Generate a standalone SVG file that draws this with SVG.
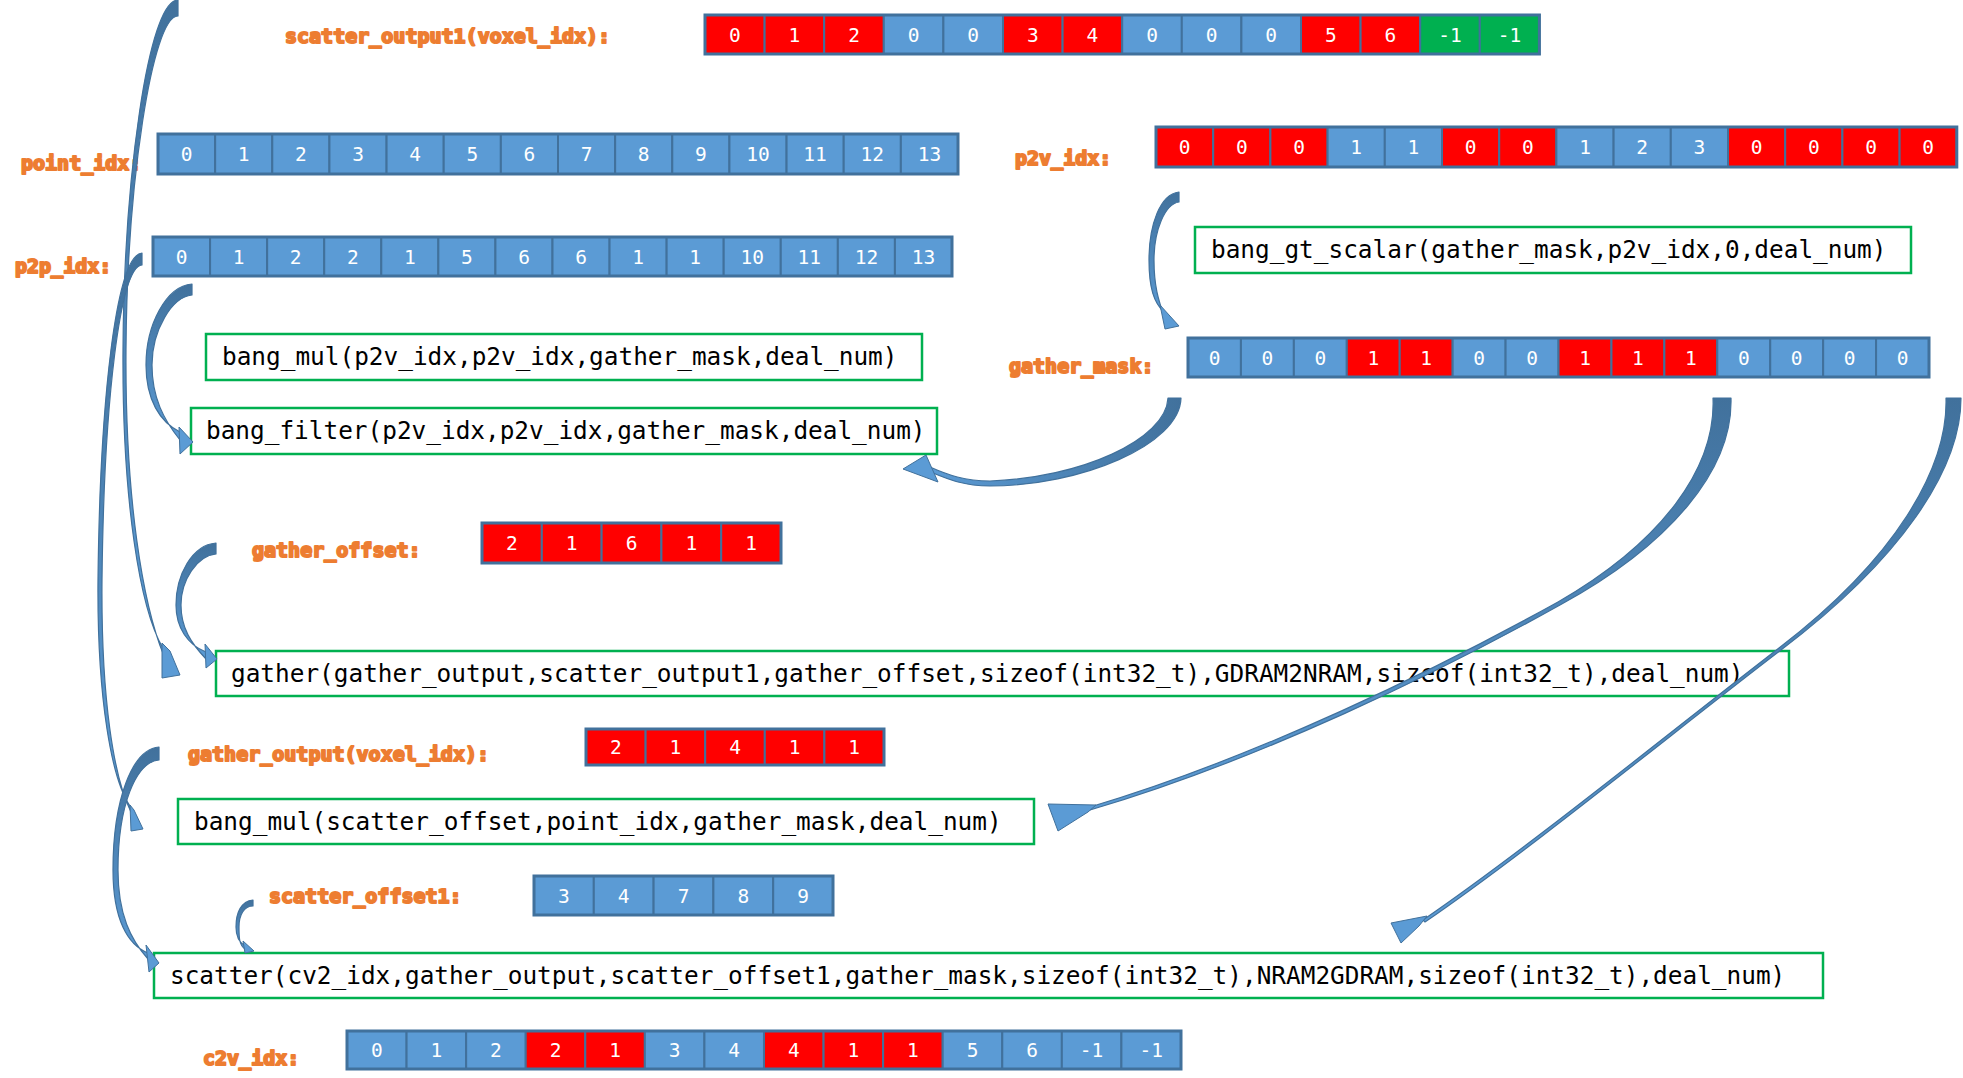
<svg xmlns="http://www.w3.org/2000/svg" width="1963" height="1078" viewBox="0 0 1963 1078">
<style>
.cb{fill:#5B9BD5;stroke:#41719C;stroke-width:2}
.cr{fill:#FF0000;stroke:#41719C;stroke-width:2}
.cg{fill:#00B050;stroke:#41719C;stroke-width:2}
.frame{fill:none;stroke:#41719C;stroke-width:3}
.num{font-family:"DejaVu Sans Mono",monospace;font-size:19.5px;fill:#fff;text-anchor:middle}
.lbl{font-family:"DejaVu Sans Mono",monospace;font-size:20px;font-weight:bold;fill:#ED7D31;stroke:#ED7D31;stroke-width:2;stroke-linejoin:round}
.box{fill:#fff;stroke:#00B050;stroke-width:2.5}
.code{font-family:"DejaVu Sans Mono",monospace;font-size:24.4px;fill:#000}
.arr{stroke:#41719C;stroke-width:1.2;stroke-linejoin:round}
.head{fill:#5B9BD5;stroke:#41719C;stroke-width:1;stroke-linejoin:round}
</style>
<defs>
<linearGradient id="gDown" x1="0" y1="0" x2="0" y2="1"><stop offset="0" stop-color="#41719C"/><stop offset="1" stop-color="#5B9BD5"/></linearGradient>
<linearGradient id="gLeft" x1="1" y1="0" x2="0" y2="0"><stop offset="0" stop-color="#41719C"/><stop offset="1" stop-color="#5B9BD5"/></linearGradient>
</defs>
<rect width="1963" height="1078" fill="#fff"/>

<g id="scatter_output1">
<text class="lbl" x="285" y="43">scatter_output1(voxel_idx):</text>
<rect class="cr" x="705" y="15" width="59.6" height="39"/><rect class="cr" x="764.6" y="15" width="59.6" height="39"/><rect class="cr" x="824.2" y="15" width="59.6" height="39"/><rect class="cb" x="883.8" y="15" width="59.6" height="39"/><rect class="cb" x="943.4" y="15" width="59.6" height="39"/><rect class="cr" x="1003" y="15" width="59.6" height="39"/><rect class="cr" x="1062.6" y="15" width="59.6" height="39"/><rect class="cb" x="1122.2" y="15" width="59.6" height="39"/><rect class="cb" x="1181.8" y="15" width="59.6" height="39"/><rect class="cb" x="1241.4" y="15" width="59.6" height="39"/><rect class="cr" x="1301" y="15" width="59.6" height="39"/><rect class="cr" x="1360.6" y="15" width="59.6" height="39"/><rect class="cg" x="1420.2" y="15" width="59.6" height="39"/><rect class="cg" x="1479.8" y="15" width="59.6" height="39"/>
<rect class="frame" x="705" y="15" width="834.4" height="39"/>
<text class="num" x="734.8" y="41.5">0</text><text class="num" x="794.4" y="41.5">1</text><text class="num" x="854" y="41.5">2</text><text class="num" x="913.6" y="41.5">0</text><text class="num" x="973.2" y="41.5">0</text><text class="num" x="1032.8" y="41.5">3</text><text class="num" x="1092.4" y="41.5">4</text><text class="num" x="1152" y="41.5">0</text><text class="num" x="1211.6" y="41.5">0</text><text class="num" x="1271.2" y="41.5">0</text><text class="num" x="1330.8" y="41.5">5</text><text class="num" x="1390.4" y="41.5">6</text><text class="num" x="1450" y="41.5">-1</text><text class="num" x="1509.6" y="41.5">-1</text>
</g>

<g id="point_idx">
<text class="lbl" x="21" y="170">point_idx:</text>
<rect class="cb" x="158" y="134" width="57.14" height="40"/><rect class="cb" x="215.14" y="134" width="57.14" height="40"/><rect class="cb" x="272.29" y="134" width="57.14" height="40"/><rect class="cb" x="329.43" y="134" width="57.14" height="40"/><rect class="cb" x="386.57" y="134" width="57.14" height="40"/><rect class="cb" x="443.71" y="134" width="57.14" height="40"/><rect class="cb" x="500.86" y="134" width="57.14" height="40"/><rect class="cb" x="558" y="134" width="57.14" height="40"/><rect class="cb" x="615.14" y="134" width="57.14" height="40"/><rect class="cb" x="672.29" y="134" width="57.14" height="40"/><rect class="cb" x="729.43" y="134" width="57.14" height="40"/><rect class="cb" x="786.57" y="134" width="57.14" height="40"/><rect class="cb" x="843.71" y="134" width="57.14" height="40"/><rect class="cb" x="900.86" y="134" width="57.14" height="40"/>
<rect class="frame" x="158" y="134" width="800" height="40"/>
<text class="num" x="186.6" y="161">0</text><text class="num" x="243.7" y="161">1</text><text class="num" x="300.9" y="161">2</text><text class="num" x="358" y="161">3</text><text class="num" x="415.1" y="161">4</text><text class="num" x="472.3" y="161">5</text><text class="num" x="529.4" y="161">6</text><text class="num" x="586.6" y="161">7</text><text class="num" x="643.7" y="161">8</text><text class="num" x="700.9" y="161">9</text><text class="num" x="758" y="161">10</text><text class="num" x="815.1" y="161">11</text><text class="num" x="872.3" y="161">12</text><text class="num" x="929.4" y="161">13</text>
</g>

<g id="p2p_idx">
<text class="lbl" x="15" y="273">p2p_idx:</text>
<rect class="cb" x="153" y="237" width="57.07" height="39"/><rect class="cb" x="210.07" y="237" width="57.07" height="39"/><rect class="cb" x="267.14" y="237" width="57.07" height="39"/><rect class="cb" x="324.21" y="237" width="57.07" height="39"/><rect class="cb" x="381.28" y="237" width="57.07" height="39"/><rect class="cb" x="438.35" y="237" width="57.07" height="39"/><rect class="cb" x="495.42" y="237" width="57.07" height="39"/><rect class="cb" x="552.49" y="237" width="57.07" height="39"/><rect class="cb" x="609.56" y="237" width="57.07" height="39"/><rect class="cb" x="666.63" y="237" width="57.07" height="39"/><rect class="cb" x="723.7" y="237" width="57.07" height="39"/><rect class="cb" x="780.77" y="237" width="57.07" height="39"/><rect class="cb" x="837.84" y="237" width="57.07" height="39"/><rect class="cb" x="894.91" y="237" width="57.07" height="39"/>
<rect class="frame" x="153" y="237" width="799" height="39"/>
<text class="num" x="181.5" y="263.5">0</text><text class="num" x="238.6" y="263.5">1</text><text class="num" x="295.7" y="263.5">2</text><text class="num" x="352.8" y="263.5">2</text><text class="num" x="409.8" y="263.5">1</text><text class="num" x="466.9" y="263.5">5</text><text class="num" x="524" y="263.5">6</text><text class="num" x="581" y="263.5">6</text><text class="num" x="638.1" y="263.5">1</text><text class="num" x="695.2" y="263.5">1</text><text class="num" x="752.2" y="263.5">10</text><text class="num" x="809.3" y="263.5">11</text><text class="num" x="866.4" y="263.5">12</text><text class="num" x="923.5" y="263.5">13</text>
</g>

<g id="p2v_idx">
<text class="lbl" x="1015" y="165">p2v_idx:</text>
<rect class="cr" x="1156" y="127" width="57.2" height="40"/><rect class="cr" x="1213.2" y="127" width="57.2" height="40"/><rect class="cr" x="1270.4" y="127" width="57.2" height="40"/><rect class="cb" x="1327.6" y="127" width="57.2" height="40"/><rect class="cb" x="1384.8" y="127" width="57.2" height="40"/><rect class="cr" x="1442" y="127" width="57.2" height="40"/><rect class="cr" x="1499.2" y="127" width="57.2" height="40"/><rect class="cb" x="1556.4" y="127" width="57.2" height="40"/><rect class="cb" x="1613.6" y="127" width="57.2" height="40"/><rect class="cb" x="1670.8" y="127" width="57.2" height="40"/><rect class="cr" x="1728" y="127" width="57.2" height="40"/><rect class="cr" x="1785.2" y="127" width="57.2" height="40"/><rect class="cr" x="1842.4" y="127" width="57.2" height="40"/><rect class="cr" x="1899.6" y="127" width="57.2" height="40"/>
<rect class="frame" x="1156" y="127" width="800.8" height="40"/>
<text class="num" x="1184.6" y="154">0</text><text class="num" x="1241.8" y="154">0</text><text class="num" x="1299" y="154">0</text><text class="num" x="1356.2" y="154">1</text><text class="num" x="1413.4" y="154">1</text><text class="num" x="1470.6" y="154">0</text><text class="num" x="1527.8" y="154">0</text><text class="num" x="1585" y="154">1</text><text class="num" x="1642.2" y="154">2</text><text class="num" x="1699.4" y="154">3</text><text class="num" x="1756.6" y="154">0</text><text class="num" x="1813.8" y="154">0</text><text class="num" x="1871" y="154">0</text><text class="num" x="1928.2" y="154">0</text>
</g>

<g id="bang_gt_scalar">
<rect class="box" x="1195" y="227" width="716" height="46"/>
<text class="code" x="1211" y="258">bang_gt_scalar(gather_mask,p2v_idx,0,deal_num)</text>
</g>

<g id="gather_mask">
<text class="lbl" x="1009" y="373">gather_mask:</text>
<rect class="cb" x="1188" y="338" width="52.93" height="39"/><rect class="cb" x="1240.93" y="338" width="52.93" height="39"/><rect class="cb" x="1293.86" y="338" width="52.93" height="39"/><rect class="cr" x="1346.79" y="338" width="52.93" height="39"/><rect class="cr" x="1399.72" y="338" width="52.93" height="39"/><rect class="cb" x="1452.65" y="338" width="52.93" height="39"/><rect class="cb" x="1505.58" y="338" width="52.93" height="39"/><rect class="cr" x="1558.51" y="338" width="52.93" height="39"/><rect class="cr" x="1611.44" y="338" width="52.93" height="39"/><rect class="cr" x="1664.37" y="338" width="52.93" height="39"/><rect class="cb" x="1717.3" y="338" width="52.93" height="39"/><rect class="cb" x="1770.23" y="338" width="52.93" height="39"/><rect class="cb" x="1823.16" y="338" width="52.93" height="39"/><rect class="cb" x="1876.09" y="338" width="52.93" height="39"/>
<rect class="frame" x="1188" y="338" width="741" height="39"/>
<text class="num" x="1214.5" y="364.5">0</text><text class="num" x="1267.4" y="364.5">0</text><text class="num" x="1320.3" y="364.5">0</text><text class="num" x="1373.3" y="364.5">1</text><text class="num" x="1426.2" y="364.5">1</text><text class="num" x="1479.1" y="364.5">0</text><text class="num" x="1532" y="364.5">0</text><text class="num" x="1585" y="364.5">1</text><text class="num" x="1637.9" y="364.5">1</text><text class="num" x="1690.8" y="364.5">1</text><text class="num" x="1743.8" y="364.5">0</text><text class="num" x="1796.7" y="364.5">0</text><text class="num" x="1849.6" y="364.5">0</text><text class="num" x="1902.6" y="364.5">0</text>
</g>

<g id="bang_mul_p2v">
<rect class="box" x="206" y="334" width="716" height="46"/>
<text class="code" x="222" y="365">bang_mul(p2v_idx,p2v_idx,gather_mask,deal_num)</text>
</g>

<g id="bang_filter">
<rect class="box" x="191" y="408" width="746" height="46"/>
<text class="code" x="206" y="439">bang_filter(p2v_idx,p2v_idx,gather_mask,deal_num)</text>
</g>

<g id="gather_offset">
<text class="lbl" x="252" y="557">gather_offset:</text>
<rect class="cr" x="482" y="523" width="59.8" height="40"/><rect class="cr" x="541.8" y="523" width="59.8" height="40"/><rect class="cr" x="601.6" y="523" width="59.8" height="40"/><rect class="cr" x="661.4" y="523" width="59.8" height="40"/><rect class="cr" x="721.2" y="523" width="59.8" height="40"/>
<rect class="frame" x="482" y="523" width="299" height="40"/>
<text class="num" x="511.9" y="550">2</text><text class="num" x="571.7" y="550">1</text><text class="num" x="631.5" y="550">6</text><text class="num" x="691.3" y="550">1</text><text class="num" x="751.1" y="550">1</text>
</g>

<g id="gather">
<rect class="box" x="216" y="651" width="1573" height="45"/>
<text class="code" x="231" y="682">gather(gather_output,scatter_output1,gather_offset,sizeof(int32_t),GDRAM2NRAM,sizeof(int32_t),deal_num)</text>
</g>

<g id="gather_output">
<text class="lbl" x="188" y="761">gather_output(voxel_idx):</text>
<rect class="cr" x="586" y="729" width="59.6" height="36"/><rect class="cr" x="645.6" y="729" width="59.6" height="36"/><rect class="cr" x="705.2" y="729" width="59.6" height="36"/><rect class="cr" x="764.8" y="729" width="59.6" height="36"/><rect class="cr" x="824.4" y="729" width="59.6" height="36"/>
<rect class="frame" x="586" y="729" width="298" height="36"/>
<text class="num" x="615.8" y="754">2</text><text class="num" x="675.4" y="754">1</text><text class="num" x="735" y="754">4</text><text class="num" x="794.6" y="754">1</text><text class="num" x="854.2" y="754">1</text>
</g>

<g id="bang_mul_scatter">
<rect class="box" x="178" y="799" width="856" height="45"/>
<text class="code" x="194" y="830">bang_mul(scatter_offset,point_idx,gather_mask,deal_num)</text>
</g>

<g id="scatter_offset1">
<text class="lbl" x="269" y="903">scatter_offset1:</text>
<rect class="cb" x="534" y="876" width="59.8" height="39"/><rect class="cb" x="593.8" y="876" width="59.8" height="39"/><rect class="cb" x="653.6" y="876" width="59.8" height="39"/><rect class="cb" x="713.4" y="876" width="59.8" height="39"/><rect class="cb" x="773.2" y="876" width="59.8" height="39"/>
<rect class="frame" x="534" y="876" width="299" height="39"/>
<text class="num" x="563.9" y="902.5">3</text><text class="num" x="623.7" y="902.5">4</text><text class="num" x="683.5" y="902.5">7</text><text class="num" x="743.3" y="902.5">8</text><text class="num" x="803.1" y="902.5">9</text>
</g>

<g id="scatter">
<rect class="box" x="154" y="953" width="1669" height="45"/>
<text class="code" x="170" y="984">scatter(cv2_idx,gather_output,scatter_offset1,gather_mask,sizeof(int32_t),NRAM2GDRAM,sizeof(int32_t),deal_num)</text>
</g>

<g id="c2v_idx">
<text class="lbl" x="203" y="1065">c2v_idx:</text>
<rect class="cb" x="347" y="1031" width="59.57" height="38"/><rect class="cb" x="406.57" y="1031" width="59.57" height="38"/><rect class="cb" x="466.14" y="1031" width="59.57" height="38"/><rect class="cr" x="525.71" y="1031" width="59.57" height="38"/><rect class="cr" x="585.28" y="1031" width="59.57" height="38"/><rect class="cb" x="644.85" y="1031" width="59.57" height="38"/><rect class="cb" x="704.42" y="1031" width="59.57" height="38"/><rect class="cr" x="763.99" y="1031" width="59.57" height="38"/><rect class="cr" x="823.56" y="1031" width="59.57" height="38"/><rect class="cr" x="883.13" y="1031" width="59.57" height="38"/><rect class="cb" x="942.7" y="1031" width="59.57" height="38"/><rect class="cb" x="1002.27" y="1031" width="59.57" height="38"/><rect class="cb" x="1061.84" y="1031" width="59.57" height="38"/><rect class="cb" x="1121.41" y="1031" width="59.57" height="38"/>
<rect class="frame" x="347" y="1031" width="834" height="38"/>
<text class="num" x="376.8" y="1057">0</text><text class="num" x="436.4" y="1057">1</text><text class="num" x="495.9" y="1057">2</text><text class="num" x="555.5" y="1057">2</text><text class="num" x="615.1" y="1057">1</text><text class="num" x="674.6" y="1057">3</text><text class="num" x="734.2" y="1057">4</text><text class="num" x="793.8" y="1057">4</text><text class="num" x="853.4" y="1057">1</text><text class="num" x="912.9" y="1057">1</text><text class="num" x="972.5" y="1057">5</text><text class="num" x="1032.1" y="1057">6</text><text class="num" x="1091.6" y="1057">-1</text><text class="num" x="1151.2" y="1057">-1</text>
</g>

<g id="connectors">
<!-- A: scatter_output1 -> gather -->
<path class="arr" fill="url(#gDown)" d="M178,0 C148,0 124,180 123,350 C122,500 140,610 163,648 L164,656 C143,605 125,500 126,350 C127,185 152,16 178,16 Z"/>
<polygon class="head" points="162,643 170,651 180,675 162,678"/>
<!-- B: p2p_idx -> bang_mul(scatter_offset...) -->
<path class="arr" fill="url(#gDown)" d="M142,253 C116,255 100,400 98,580 C97,700 112,780 130,806 L131,812 C114,778 101,700 102,580 C104,400 120,267 142,265 Z"/>
<polygon class="head" points="130,805 134,810 143,829 131,831"/>
<!-- F: p2p_idx -> bang_filter -->
<path class="arr" fill="url(#gDown)" d="M192,284 C166,286 146,325 146,365 C146,400 160,422 180,432 L180,440 C164,420 152,398 152,365 C152,330 172,297 192,295 Z"/>
<polygon class="head" points="179,427 193,442 180,454"/>
<!-- E: gather_offset -> gather -->
<path class="arr" fill="url(#gDown)" d="M216,543 C192,545 176,575 176,605 C176,628 188,645 206,652 L206,659 C191,643 181,628 181,605 C181,580 197,556 216,554 Z"/>
<polygon class="head" points="205,644 217,659 206,668"/>
<!-- C: gather_output -> scatter -->
<path class="arr" fill="url(#gDown)" d="M159,747 C132,749 113,800 113,870 C113,920 128,945 148,953 L148,959 C131,940 118,915 118,870 C118,805 136,762 159,760 Z"/>
<polygon class="head" points="146,945 159,963 149,972"/>
<!-- D: scatter_offset1 -> scatter -->
<path class="arr" fill="url(#gDown)" d="M253,900 C241,901 236,913 236,927 C236,937 240,943 245,946 L245,949 C239,945 239,937 239,927 C239,915 244,906 253,906 Z"/>
<polygon class="head" points="243,941 254,951 245,953"/>
<!-- G: p2v_idx -> gather_mask -->
<path class="arr" fill="url(#gDown)" d="M1179,192 C1160,194 1149,225 1149,260 C1149,288 1154,303 1164,312 L1165,318 C1158,300 1154,285 1154,260 C1154,230 1165,204 1179,202 Z"/>
<polygon class="head" points="1160,305 1179,326 1165,329"/>
<!-- H: gather_mask -> bang_filter -->
<path class="arr" fill="url(#gLeft)" d="M1181,398 C1180,445 1080,486 990,486 C962,486 945,478 928,471 L930,467 C948,475 965,481 990,481 C1080,478 1166,440 1168,398 Z"/>
<polygon class="head" points="926,455 903,469 938,482"/>
<!-- I: gather_mask -> bang_mul(scatter_offset...) -->
<path class="arr" fill="url(#gDown)" d="M1731,398 C1733,470 1670,545 1560,605 C1440,672 1260,760 1090,810 L1090,807 C1258,757 1437,669 1558,602 C1662,542 1716,468 1713,398 Z"/>
<polygon class="head" points="1048,804 1096,805 1088,812 1058,831"/>
<!-- J: gather_mask -> scatter -->
<path class="arr" fill="url(#gDown)" d="M1961,398 C1961,470 1900,560 1781,650 C1680,727 1530,850 1425,922 L1423,920 C1528,848 1679,725 1779,648 C1896,558 1948,468 1946,398 Z"/>
<polygon class="head" points="1391,923 1427,916 1419,926 1401,943"/>
</g>
</svg>
